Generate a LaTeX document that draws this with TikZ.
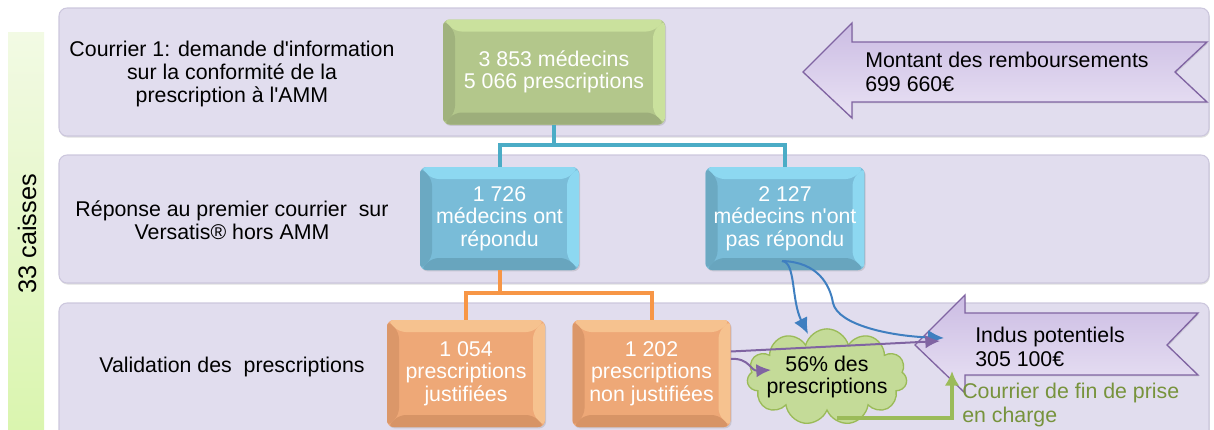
\documentclass[tikz,border=0pt]{standalone}
\usepackage{fontspec}
\setmainfont{Liberation Sans}
\usetikzlibrary{positioning,shapes.symbols,arrows.meta,shadows}

\definecolor{bandfill}{HTML}{E1DDEE}
\definecolor{bandline}{HTML}{CCC7DD}
\definecolor{barlight}{HTML}{F2FAE4}
\definecolor{bardark}{HTML}{DAF5AF}
\definecolor{greenmid}{HTML}{B3C78B}
\definecolor{greenlight}{HTML}{CAE19D}
\definecolor{greendark}{HTML}{9DAE7B}
\definecolor{bluemid}{HTML}{79BCD8}
\definecolor{bluelight}{HTML}{8DD8F1}
\definecolor{bluedark}{HTML}{68A5BE}
\definecolor{orangemid}{HTML}{EEA877}
\definecolor{orangelight}{HTML}{F6C28F}
\definecolor{orangedark}{HTML}{D79466}
\definecolor{tealline}{HTML}{4BACC6}
\definecolor{orangeline}{HTML}{F79646}
\definecolor{purpleline}{HTML}{8064A2}
\definecolor{purpletop}{HTML}{CBBCE3}
\definecolor{purplebot}{HTML}{E9E2F4}
\definecolor{cloudfill}{HTML}{C4DB98}
\definecolor{cloudline}{HTML}{9BBB59}
\definecolor{curveblue}{HTML}{3F7FC0}
\definecolor{textgreen}{HTML}{77933C}

\begin{document}
\begin{tikzpicture}[
            x=0.75pt,y=-0.75pt,
            font=\fontsize{16}{17}\selectfont,
            band/.style={
              fill=bandfill,
              draw=bandline,
              line width=0.8pt,
              rounded corners=6pt,
              drop shadow={shadow xshift=0.6pt,shadow yshift=-1.2pt,opacity=0.25}
            },
            bevel/.style n args={3}{
              fill=#1,
              rounded corners=5pt,
              inner sep=0pt,
              align=center,
              text=white,
              drop shadow={shadow xshift=0.8pt,shadow yshift=-1pt,opacity=0.25},
              path picture={
                \fill[#2] (path picture bounding box.north west) -- (path picture bounding box.north east)
                  -- ([shift={(-9pt,-9pt)}]path picture bounding box.north east)
                  -- ([shift={(9pt,-9pt)}]path picture bounding box.north west) -- cycle;
                \fill[#2] (path picture bounding box.north east) -- (path picture bounding box.south east)
                  -- ([shift={(-9pt,9pt)}]path picture bounding box.south east)
                  -- ([shift={(-9pt,-9pt)}]path picture bounding box.north east) -- cycle;
                \fill[#3] (path picture bounding box.south east) -- (path picture bounding box.south west)
                  -- ([shift={(9pt,9pt)}]path picture bounding box.south west)
                  -- ([shift={(-9pt,9pt)}]path picture bounding box.south east) -- cycle;
                \fill[#3!85!#1] (path picture bounding box.south west) -- (path picture bounding box.north west)
                  -- ([shift={(9pt,-9pt)}]path picture bounding box.north west)
                  -- ([shift={(9pt,9pt)}]path picture bounding box.south west) -- cycle;
              }
            },
            greenbox/.style={
              bevel={greenmid}{greenlight}{greendark},
              minimum width=166.5pt,
              minimum height=78.75pt
            },
            bluebox/.style={
              bevel={bluemid}{bluelight}{bluedark},
              minimum width=119.25pt,
              minimum height=77.25pt
            },
            orangebox/.style={
              bevel={orangemid}{orangelight}{orangedark},
              minimum width=118.5pt,
              minimum height=80.25pt
            },
            lbl/.style={
              align=center,
              inner sep=0pt
            },
            banner/.style={
              top color=purpletop,
              bottom color=purplebot,
              draw=purpleline,
              line width=1pt,
              drop shadow={shadow xshift=0.8pt,shadow yshift=-1pt,opacity=0.2}
            },
            bannertext/.style={
              anchor=west,
              align=left,
              inner sep=0pt,
              font=\fontsize{16}{18.5}\selectfont
            },
            fork/.style={
              line width=3pt
            },
            bluecurve/.style={
              draw=curveblue,
              line width=1.5pt,
              -{Latex[length=12pt,width=11pt]}
            },
            purplecurve/.style={
              draw=purpleline,
              line width=1.5pt,
              -{Latex[length=11pt,width=10pt]}
            }
            ]
            \useasboundingbox (0,0) rectangle (1214,429);

            % bandeaux
            \draw[band] (59,8) rectangle (1209,136);
            \draw[band] (59,155) rectangle (1209,283);
            \begin{scope}
            \clip (0,0) rectangle (1214,429);
            \draw[band] (59,303) rectangle (1209,445);
            \end{scope}

            \shade[top color=barlight,bottom color=bardark] (8,32) rectangle (44,429);
            \node[rotate=90,inner sep=0pt,font=\fontsize{19}{20}\selectfont] 
              (caisses) at (27,234) {33 caisses};

            \node[lbl] (lbl1) at (232,74) 
              {Courrier 1: demande d\textquotesingle information\\sur la conformité de la\\prescription à l\textquotesingle AMM};
            \node[lbl] (lbl2) at (232,220) 
              {Réponse au premier courrier\ \ sur\\Versatis® hors AMM};
            \node[lbl] (lbl3) at (232,367) 
              {Validation des\ \ prescriptions};

            % boites
            \node[greenbox] (medecins) at (554,72) 
              {3 853 médecins\\5 066 prescriptions};
            \node[bluebox] (repondu) at (499.5,218.5) 
              {1 726\\médecins ont\\répondu};
            \node[bluebox,right=94.5pt of repondu] (nonrep) 
              {2 127\\médecins n\textquotesingle ont\\pas répondu};
            \node[orangebox] (justif) at (466,373.5) 
              {1 054\\prescriptions\\justifiées};
            \node[orangebox,right=20.25pt of justif] (nonjustif) 
              {1 202\\prescriptions\\non justifiées};

            \draw[fork,tealline] (medecins.south) -- ++(0,20) coordinate (fork1) -| (repondu.north);
            \draw[fork,tealline] (fork1) -| (nonrep.north);
            \draw[fork,orangeline] (repondu.south) -- ++(0,23) coordinate (fork2) -| (justif.north);
            \draw[fork,orangeline] (fork2) -| (nonjustif.north);

            \node[cloud,cloud puffs=11,cloud ignores aspect,fill=cloudfill,draw=cloudline,line width=1pt,
              inner xsep=-7pt,inner ysep=2pt,align=center,
              minimum width=120pt,minimum height=67pt] 
              (pct) at (827,377) {56\% des\\prescriptions};

            % fleches
            \path[banner] (803,72) -- (852,23) -- (852,42) -- (1207,42) -- (1175,72) 
              -- (1207,102) -- (852,102) -- (852,118) -- cycle;
            \node[bannertext] (montant) at (865,72) {Montant des remboursements\\699 660€};
            \path[banner] (915,345) -- (965,295) -- (965,313) -- (1198,313) -- (1167,345) 
              -- (1198,375) -- (965,375) -- (965,393) -- cycle;
            \node[bannertext] (indus) at (975,347) {Indus potentiels\\305 100€};

            \node[bannertext,text=textgreen] (finprise) at (962,405) {Courrier de fin de prise\\en charge};

            \coordinate (nrstart) at (782,261);
            \coordinate (pcttop) at (808,334);
            \coordinate (pctleft) at (771,370);
            \coordinate (pctbot) at (837,418);
            \coordinate (indushead) at (944,338);
            \coordinate (indushead2) at (940,341);
            \coordinate (indusfoot) at (952,371);

            \draw[bluecurve] (nrstart) .. controls (796,262) and (791,300) .. (pcttop);
            \draw[bluecurve] (nrstart) .. controls (818,262) and (830,285) .. (833,303) 
              .. controls (838,325) and (890,336) .. (indushead);
            \draw[purplecurve] ([yshift=16.5pt]nonjustif.east) -- (indushead2);
            \draw[purplecurve] ([yshift=11pt]nonjustif.east) .. controls (750,358) and (750,371) .. (pctleft);
            \draw[cloudline,line width=3pt,-{Latex[length=11pt,width=11pt]}] (pctbot) -| (indusfoot);
            \end{tikzpicture}
\end{document}
